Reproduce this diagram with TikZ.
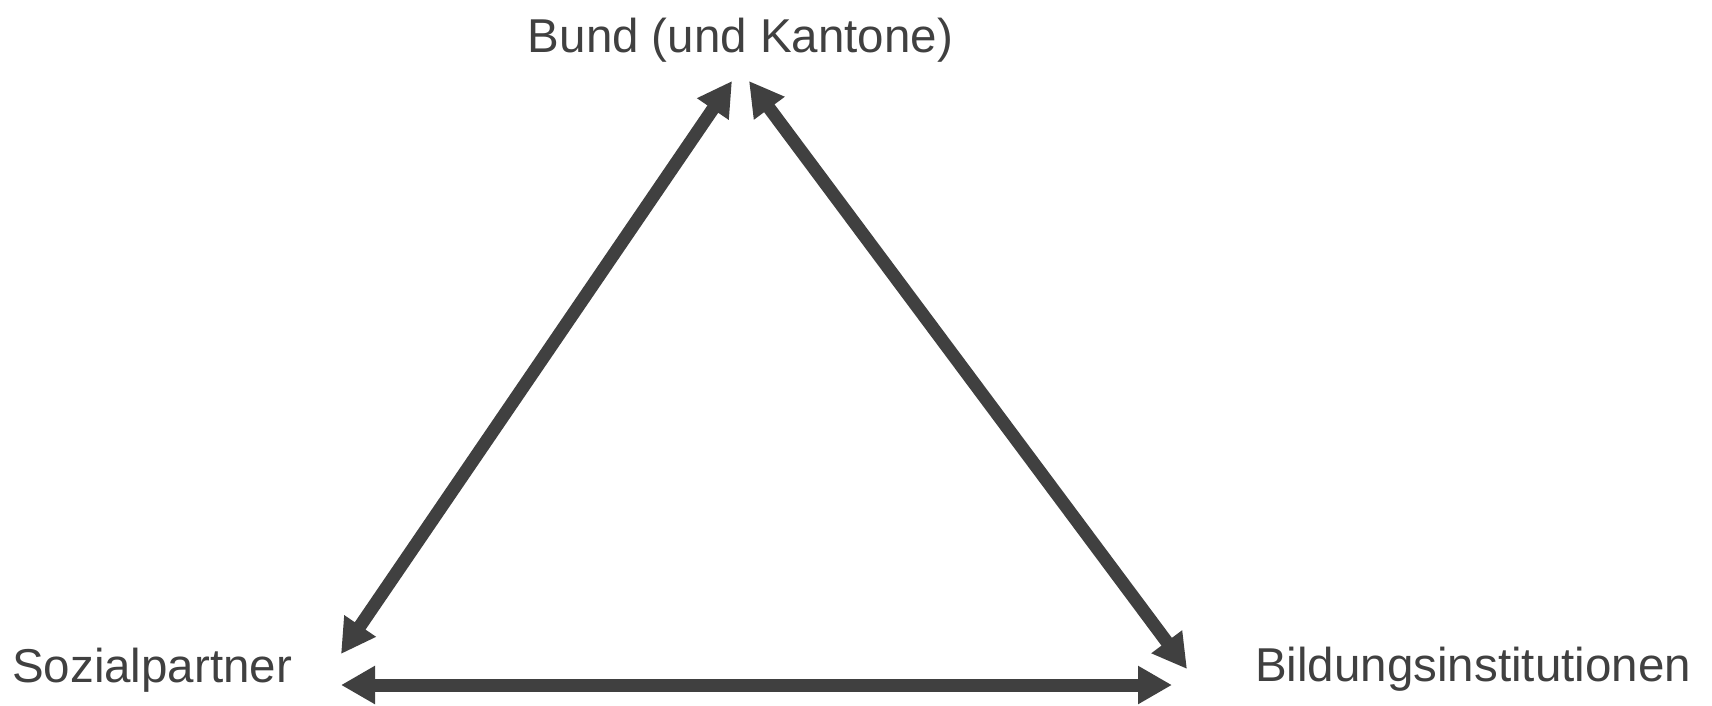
\documentclass[tikz,border=0pt]{standalone}
\usepackage{fontspec}
\setmainfont{Liberation Sans}
\usetikzlibrary{arrows.meta}
\definecolor{ink}{HTML}{404040}
\tikzset{
  lbl/.style={inner sep=0pt, text=ink, font=\fontsize{47.5}{57}\selectfont},
  dblarrow/.style={draw=ink, line width=13pt,
    {Triangle[length=34pt,width=36pt]}-{Triangle[length=34pt,width=36pt]}}
}
\begin{document}
\begin{tikzpicture}[x=1pt,y=-1pt]
\useasboundingbox (0,0) rectangle (1712,705);
\node[lbl, anchor=base] (bund) at (740.5,52) {Bund (und Kantone)};
\node[lbl, anchor=base west] (sozial) at (12,682) {Sozialpartner};
\node[lbl, anchor=base west] (bildung) at (1255,681) {Bildungsinstitutionen};
\coordinate (sA) at (341,654);
\coordinate (bA) at (732,81);
\coordinate (bB) at (749,81);
\coordinate (iB) at (1187,669);
\coordinate (sC) at (341,685);
\coordinate (iC) at (1172,685);
\draw[dblarrow] (sA) -- (bA);
\draw[dblarrow] (bB) -- (iB);
\draw[dblarrow] (sC) -- (iC);
\end{tikzpicture}
\end{document}
